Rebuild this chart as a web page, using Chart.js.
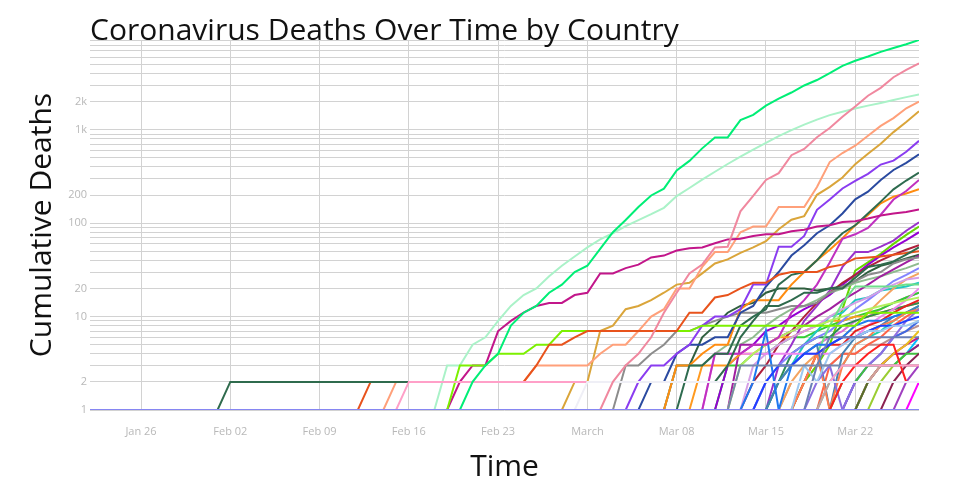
<!DOCTYPE html>
<html>
<head>
<meta charset="utf-8">
<script src="https://cdn.jsdelivr.net/npm/chart.js@4.4.1/dist/chart.umd.min.js"></script>
<style>
  html, body { margin: 0; padding: 0; background: #fff; }
  #wrap { width: 960px; height: 500px; }
</style>
</head>
<body>
<div id="wrap"><canvas id="deathsChart" width="960" height="500"></canvas></div>
<script>
// day 0 = Jan 22, last day = 65 (Mar 27); values are deaths + 1 (log axis)
var xTickDays = [4, 11, 18, 25, 32, 39, 46, 53, 60];
var xTickLabels = ['Jan 26', 'Feb 02', 'Feb 09', 'Feb 16', 'Feb 23', 'March', 'Mar 08', 'Mar 15', 'Mar 22'];
var yGridValues = [1,2,3,4,5,6,7,8,9,10,20,30,40,50,60,70,80,90,100,200,300,400,500,600,700,800,900,
                   1000,2000,3000,4000,5000,6000,7000,8000,9000];
var yLabelValues = [1, 2, 10, 20, 100, 200, 1000, 2000];
var yLabelText = ['1', '2', '10', '20', '100', '200', '1k', '2k'];

// countries still at zero: flat line on the floor
var baseline = [1,1,1,1,1,1,1,1,1,1,1,1,1,1,1,1,1,1,1,1,1,1,1,1,1,1,1,1,1,1,1,1,1,1,
                1,1,1,1,1,1,1,1,1,1,1,1,1,1,1,1,1,1,1,1,1,1,1,1,1,1,1,1,1,1,1,1];

var italy = [1,2,3,4,8,11,13,18,22,30,35,53,80,108,149,198,234,367,464,632,828,828,1267,1442,1810,2159,2504,2979,3406,4033,4826,5477,6078,6821,7504,8216,9135];
var iran = [1,3,3,5,6,9,13,17,20,27,35,44,55,67,78,93,108,125,146,195,238,292,355,430,515,612,725,854,989,1136,1285,1434,1557,1686,1813,1935,2078,2235,2379];
var spain = [1,2,3,4,6,11,18,29,36,55,56,134,196,290,343,534,624,831,1044,1376,1773,2312,2809,3648,4366,5139];
var france = [1,2,2,2,2,2,2,2,2,2,2,2,3,3,3,3,3,4,5,5,7,10,12,20,20,34,49,49,80,92,92,149,149,149,244,451,563,675,861,1101,1332,1697,1996];
var us = [1,2,2,7,8,12,13,15,18,22,23,29,37,41,48,55,64,86,109,119,201,245,308,428,553,707,943,1210,1582];
var uk = [1,2,3,3,4,5,8,10,10,12,22,22,56,56,73,139,179,235,283,337,424,467,581,761];
var netherlands = [1,2,2,4,5,5,6,6,11,13,21,30,45,58,78,95,127,180,217,290,371,442,547];
var germany = [1,3,3,4,4,8,10,12,22,28,30,40,58,78,95,127,170,230,286,347];
var belgium = [1,4,4,4,5,5,6,11,15,22,38,68,76,89,123,179,221,290];
var korea = [1,2,3,3,7,9,11,13,14,14,17,18,29,29,33,36,43,45,51,54,55,61,67,68,73,76,76,82,85,92,95,103,105,112,121,127,132,140];
var cruiseShip = [1,3,3,3,4,4,4,5,5,7,7,7,7,7,7,7,7,7,7,7,8,8,8,8,8,8,8,8,8,8,8,8,8,11,11,11,11,11];
var japan = [1,2,2,2,2,2,2,2,2,2,2,2,2,2,3,5,5,6,7,7,7,7,7,7,7,7,11,11,16,17,20,23,23,28,30,30,30,34,36,42,43,44,46,48,50];
var philippines = [1,2,2,2,2,2,2,2,2,2,2,2,2,2,2,2,2,2,2,2,2,2,2,2,2,2,2,2,2,2,2,2,2,2,2,2,2,2,2,2,3,6,9,13,13,15,18,18,20,20,26,34,36,39,46,55];
var taiwan = [1,2,2,2,2,2,2,2,2,2,2,2,2,2,2,2,2,2,2,2,2,2,2,2,2,2,2,2,2,2,2,2,2,2,2,3,3,3,3,3,3,3];
var thailand = [1,2,2,2,2,2,2,2,2,2,2,2,2,2,2,2,2,2,2,2,2,2,2,2,2,2,2,2];
var iraq = [1,3,3,4,5,7,7,8,9,10,11,11,11,12,13,13,14,18,21,24,28,30,37,41,43];
var switzerland = [1,3,3,4,5,5,12,15,15,15,22,30,40,52,69,95,122,163,192,208,231];

var orchidLine = [1,3,5,9,13,19,34,49,49,56,65,83,102];
var limeLine = [1,2,3,5,12,31,38,47,60,75,92];
var violetDark = [1,3,4,5,7,8,10,12,14,17,22,28,36,45,55,66,80];
var crimsonLine = [1,2,3,5,7,10,14,18,23,28,34,40,46,52,58];
var pineLine = [1,3,3,6,8,11,13,14,18,20,20,20,19,20,21,24,30,35,38,42,46];
var periwinkle = [1,2,3,4,5,6,7,9,12,15,19,24,28,33];
var sandyLine = [1,2,3,4,5,6,8,11,15,20,25,29];
var thistleLine = [1,3,4,5,6,7,8,10,12,14,16,19,22,25,26];
var mintGreen = [1,2,4,8,14,21,21,21,21,22,22];
var violetLine = [1,4,4,4,4,4,4,4,4,4,4,5,6,8,10,12,15,20];
var yellowGreen = [1,3,4,5,6,7,8,8,9,10,11,12,13,14,15,16];
var redLate = [1,2,4,5,5,7,8,9,11,13,15];
var steelLine = [1,2,3,4,5,1,4,6,7,8,10,11,13];
var dodgerLine = [1,2,7,1,3,4,5,5,6,8,9,9,10,11,12];
var coralLine = [1,2,4,1,3,5,6,8,9,11,12];
var lilacLine = [1,2,3,1,2,3,4,6,9,12];
var blueLine = [1,2,3,3,4,4,5,6,6,7,8,8,9,10];
var skyLine = [1,3,2,4,5,6,7,7,8,8,9];
var slateLine = [1,3,3,3,3,3,3,3,3,3,3,3,3,3,3,3];
var slateBlue = [1,3,6,6,6,6,6,6,6,6];
var plumDark = [1,2,3,4,4,5];
var greenLow = [1,2,2,3,3,3,4,4];
var goldLine = [1,2,3,4,5,7];
var maroonLine = [1,2,3,4];
var aquaLine = [1,2,3,5,6,7,9,11,13];
var seaGreen = [1,2,4,5,6,6,8,9,10,11,12,13,14];
var rosyLine = [1,2,2,2,2,3,3,3,3];
var oliveLine = [1,2,2,2,2,2];
var magentaLine = [1,2];
var purpleEnd = [1,2,3];
var redBump = [1,2,3,4,5,5,2,2];
var sageLine = [1,3,3,3,4,5,5,6,8,10,12,13,15,18,20,23,25,27,30,33,37];
var purpleMid = [1,5,5,5,6,7,8,10,12,15,18,22,27,32,38,45];
var turquoiseLine = [1,2,3,5,7,10,11,15,16,19,20,21,23];
var amberLine = [1,3,3,3,4,4,5,6,6,7,8,9,9,10,10,11,12,13,14];
var limeGreen = [1,3,3,4,4,5,6,6,7,8,9,10,11,12,14,16,18];
var orchidLow = [1,2,2,3,4,5,6,7,9,10,12,14,16,18];
var tomatoLine = [1,3,4,4,5,6,8,10,12];
var royalLate = [1,2,3,4,6,7,9];
var oliveGreen = [1,2,3,4,5];
var berryLine = [1,2,2,3,4,5,6];
var skyDeep = [1,2,3,3,4,6];
var rosyBrown = [1,2,2,3,3,4,4,5,5,6,7,8];

var chartTitle = 'Coronavirus Deaths Over Time by Country';
var xTitle = 'Time';
var yTitle = 'Cumulative Deaths';

function makeLine(values, start, color) {
    return {
        data: values.map(function (v, i) { return { x: start + i, y: v }; }),
        borderColor: color,
        borderWidth: 2,
        pointRadius: 0,
        pointHoverRadius: 0,
        fill: false,
        tension: 0
    };
}

// first in the list is drawn on top
var datasets = [
    makeLine(baseline, 0, '#8686f2'),
    makeLine(italy, 29, '#00ee76'),
    makeLine(spain, 40, '#f0889f'),
    makeLine(thailand, 38, '#efeff6'),
    makeLine(taiwan, 24, '#ffa0c8'),
    makeLine(philippines, 10, '#2f6b4d'),
    makeLine(japan, 21, '#e8531c'),
    makeLine(cruiseShip, 28, '#7cf000'),
    makeLine(korea, 28, '#c2168a'),
    makeLine(iran, 27, '#aaf2c8'),
    makeLine(france, 23, '#ffa07a'),
    makeLine(us, 37, '#daa53a'),
    makeLine(uk, 42, '#8a3cf0'),
    makeLine(netherlands, 43, '#2a4aa0'),
    makeLine(germany, 46, '#2e6b4f'),
    makeLine(belgium, 48, '#c030c0'),
    makeLine(switzerland, 45, '#ff8c10'),
    makeLine(iraq, 41, '#8c8c8c'),
    makeLine(magentaLine, 64, '#ff00ff'),
    makeLine(oliveLine, 60, '#556b2f'),
    makeLine(redBump, 58, '#ff2020'),
    makeLine(purpleEnd, 63, '#a040c0'),
    makeLine(maroonLine, 62, '#8b2252'),
    makeLine(rosyLine, 57, '#d0a0a0'),
    makeLine(slateLine, 50, '#7788aa'),
    makeLine(greenLow, 58, '#40c040'),
    makeLine(goldLine, 60, '#e8c020'),
    makeLine(plumDark, 60, '#8b1a8b'),
    makeLine(slateBlue, 56, '#6a7fb5'),
    makeLine(skyLine, 55, '#9cc8f0'),
    makeLine(blueLine, 52, '#2040ff'),
    makeLine(lilacLine, 56, '#8c6ee0'),
    makeLine(coralLine, 55, '#ff7f50'),
    makeLine(dodgerLine, 51, '#1e78f0'),
    makeLine(steelLine, 53, '#4682b4'),
    makeLine(redLate, 55, '#e82020'),
    makeLine(yellowGreen, 50, '#b4f060'),
    makeLine(violetLine, 48, '#ee88ee'),
    makeLine(mintGreen, 55, '#6fe08a'),
    makeLine(thistleLine, 51, '#d59ee6'),
    makeLine(sandyLine, 54, '#f4a460'),
    makeLine(periwinkle, 52, '#8383ff'),
    makeLine(aquaLine, 57, '#20d0b0'),
    makeLine(seaGreen, 53, '#2e8b57'),
    makeLine(turquoiseLine, 53, '#20c8c0'),
    makeLine(amberLine, 47, '#ff9a20'),
    makeLine(purpleMid, 50, '#a020a0'),
    makeLine(sageLine, 45, '#8fbc8f'),
    makeLine(pineLine, 45, '#2f5f3f'),
    makeLine(crimsonLine, 51, '#b0203c'),
    makeLine(violetDark, 49, '#9400d3'),
    makeLine(limeLine, 55, '#66d600'),
    makeLine(orchidLine, 53, '#9932cc'),
    makeLine(limeGreen, 49, '#32cd32'),
    makeLine(orchidLow, 52, '#da70d6'),
    makeLine(tomatoLine, 57, '#ff6347'),
    makeLine(royalLate, 59, '#4169e1'),
    makeLine(oliveGreen, 61, '#9acd32'),
    makeLine(berryLine, 59, '#c71585'),
    makeLine(skyDeep, 60, '#00bfff'),
    makeLine(rosyBrown, 54, '#bc8f8f')
];

var titlesPlugin = {
    id: 'titles',
    afterDraw: function (chart) {
        var ctx = chart.ctx;
        var area = chart.chartArea;
        ctx.save();
        ctx.fillStyle = '#111';
        ctx.font = '30px "Open Sans"';
        ctx.textAlign = 'left';
        ctx.textBaseline = 'alphabetic';
        ctx.fillText(chartTitle, 90, 40);
        ctx.textAlign = 'center';
        ctx.fillText(xTitle, (area.left + area.right) / 2, 476);
        ctx.translate(51, 225);
        ctx.rotate(-Math.PI / 2);
        ctx.fillText(yTitle, 0, 0);
        ctx.restore();
    }
};

var myChart = new Chart(document.getElementById('deathsChart'), {
    type: 'line',
    data: { datasets: datasets },
    plugins: [titlesPlugin],
    options: {
        responsive: false,
        animation: false,
        layout: { padding: { left: 0, right: 41, top: 40, bottom: 0 } },
        plugins: {
            legend: { display: false },
            title: { display: false },
            tooltip: { enabled: false }
        },
        scales: {
            x: {
                type: 'linear',
                min: 0,
                max: 65,
                bounds: 'data',
                afterBuildTicks: function (axis) {
                    axis.ticks = xTickDays.map(function (d) { return { value: d }; });
                },
                afterFit: function (axis) { axis.height = 90; },
                ticks: {
                    autoSkip: false,
                    maxRotation: 0,
                    padding: 15,
                    color: '#b8b8b8',
                    font: { family: 'Open Sans', size: 11 },
                    callback: function (value) {
                        var i = xTickDays.indexOf(value);
                        return i >= 0 ? xTickLabels[i] : '';
                    }
                },
                grid: { color: '#d2d2d2', lineWidth: 1, drawTicks: false },
                border: { display: false }
            },
            y: {
                type: 'logarithmic',
                min: 1,
                max: 9135,
                bounds: 'data',
                afterBuildTicks: function (axis) {
                    axis.ticks = yGridValues.map(function (v) { return { value: v }; });
                },
                afterFit: function (axis) { axis.width = 90; },
                ticks: {
                    autoSkip: false,
                    padding: 3,
                    color: '#b8b8b8',
                    font: { family: 'Open Sans', size: 11 },
                    callback: function (value) {
                        var i = yLabelValues.indexOf(value);
                        return i >= 0 ? yLabelText[i] : '';
                    }
                },
                grid: { color: '#d2d2d2', lineWidth: 1, drawTicks: false },
                border: { display: false }
            }
        }
    }
});
</script>
</body>
</html>
